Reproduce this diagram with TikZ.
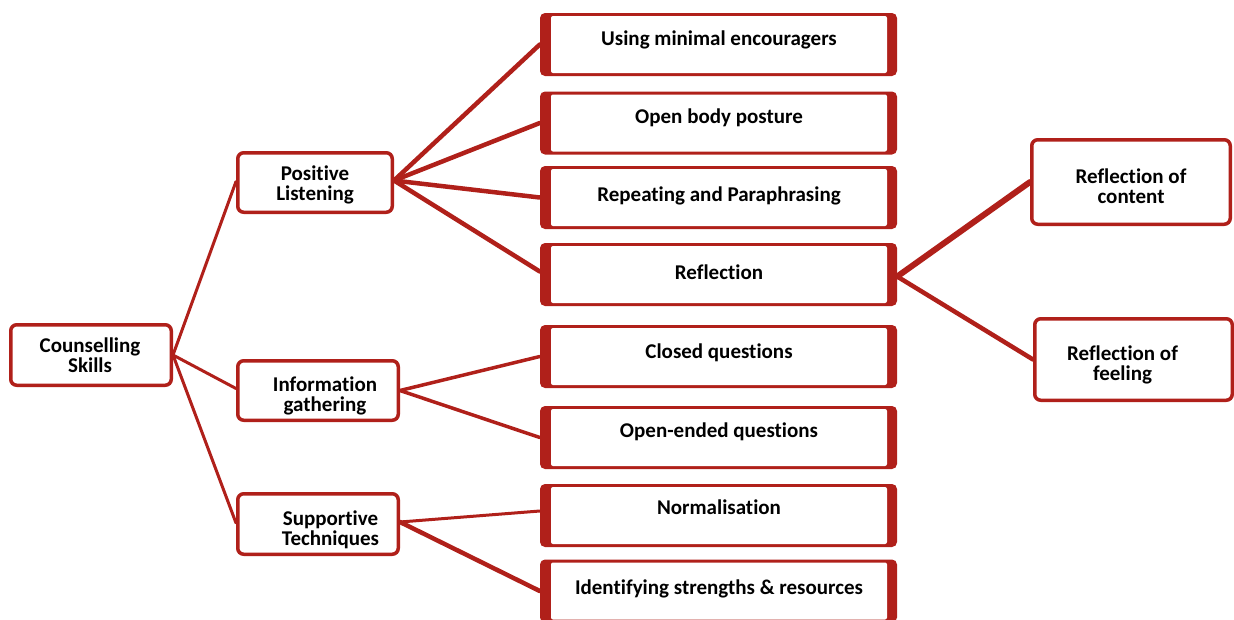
\documentclass[tikz,border=0pt]{standalone}
\usepackage{fontspec}
\setmainfont{Carlito}[Ligatures=CommonOff]
\usetikzlibrary{backgrounds,calc}
\definecolor{dred}{RGB}{176,32,26}
\tikzset{
  rbox/.style={fill=dred, rounded corners=5pt, minimum width=357pt, minimum height=63pt, inner sep=0pt,
    path picture={\fill[white, rounded corners=2pt] ([xshift=11pt,yshift=-3pt]path picture bounding box.north west) rectangle ([xshift=-10pt,yshift=3pt]path picture bounding box.south east);}},
  lbox/.style={draw=dred, fill=white, line width=3.5pt, rounded corners=6pt, inner sep=0pt},
  tx/.style={font=\fontsize{21}{20}\selectfont\bfseries, align=center, inner sep=0pt},
  conn/.style={draw=dred, line cap=round},
}
\begin{document}
\begin{tikzpicture}[x=1pt,y=-1pt]
\useasboundingbox (0,0) rectangle (1234,619);
\clip (0,0) rectangle (1234,619);
% left boxes
\node[lbox, minimum width=160.5pt, minimum height=60.5pt] (cs) at (91,355) {};
\node[lbox, minimum width=154.5pt, minimum height=59.5pt] (pl) at (315,182.5) {};
\node[lbox, minimum width=160.5pt, minimum height=59.5pt] (ig) at (318,390.5) {};
\node[lbox, minimum width=160.5pt, minimum height=60.5pt] (st) at (318,524) {};
% right column
\node[rbox] (ume) at (718.5,44.5) {};
\node[rbox] (obp) at (718.5,123) {};
\node[rbox] (rp) at (718.5,197.5) {};
\node[rbox] (ref) at (718.5,274.5) {};
\node[rbox] (cq) at (718.5,356.5) {};
\node[rbox] (oeq) at (718.5,437.5) {};
\node[rbox] (nor) at (718.5,515.5) {};
\node[rbox] (isr) at (718.5,591) {};
% far right
\node[lbox, minimum width=198.5pt, minimum height=84.5pt] (roc) at (1131,182) {};
\node[lbox, minimum width=197.5pt, minimum height=81.5pt] (rof) at (1133.5,359.5) {};
% texts
\node[tx] (tcs) at (90,355.5) {Counselling\\Skills};
\node[tx] (tpl) at (315,184.5) {Positive\\Listening};
\node[tx] (tig) at (325,395.5) {Information\\gathering};
\node[tx] (tst) at (330.5,530) {Supportive\\Techniques};
\node[tx] (troc) at (1131,186.5) {Reflection of\\content};
\node[tx] (trof) at (1122.5,364.5) {Reflection of\\feeling};
\node[tx, anchor=base] (tume) at (719,45) {Using minimal encouragers};
\node[tx, anchor=base] (tobp) at (719,123.5) {Open body posture};
\node[tx, anchor=base] (trp) at (719,201.5) {Repeating and Paraphrasing};
\node[tx, anchor=base] (tref) at (719,279.5) {Reflection};
\node[tx, anchor=base] (tcq) at (719,358.5) {Closed questions};
\node[tx, anchor=base] (toeq) at (719,437.5) {Open-ended questions};
\node[tx, anchor=base] (tnor) at (719,514.5) {Normalisation};
\node[tx, anchor=base] (tisr) at (719,594) {Identifying strengths \& resources};
% connectors
\begin{scope}[on background layer]
\draw[conn, line width=3pt] (cs.east) -- ([yshift=1pt]pl.west);
\draw[conn, line width=3pt] (cs.east) -- ([yshift=2pt]ig.west);
\draw[conn, line width=3pt] (cs.east) -- ([yshift=1pt]st.west);
\draw[conn, line width=4.5pt] ([yshift=2pt]pl.east) -- (ume.west);
\draw[conn, line width=4.5pt] ([yshift=2pt]pl.east) -- (obp.west);
\draw[conn, line width=4.5pt] ([yshift=2pt]pl.east) -- (rp.west);
\draw[conn, line width=4.5pt] ([yshift=2pt]pl.east) -- ([yshift=3pt]ref.west);
\draw[conn, line width=3.5pt] (ig.east) -- (cq.west);
\draw[conn, line width=3.5pt] (ig.east) -- (oeq.west);
\draw[conn, line width=3pt] ([yshift=2pt]st.east) -- ([yshift=4.5pt]nor.west);
\draw[conn, line width=4.5pt] ([yshift=2pt]st.east) -- (isr.west);
\draw[conn, line width=6pt] ([yshift=-2pt]ref.east) -- (roc.west);
\draw[conn, line width=4.5pt] ([yshift=-2pt]ref.east) -- (rof.west);
\end{scope}
\end{tikzpicture}
\end{document}
